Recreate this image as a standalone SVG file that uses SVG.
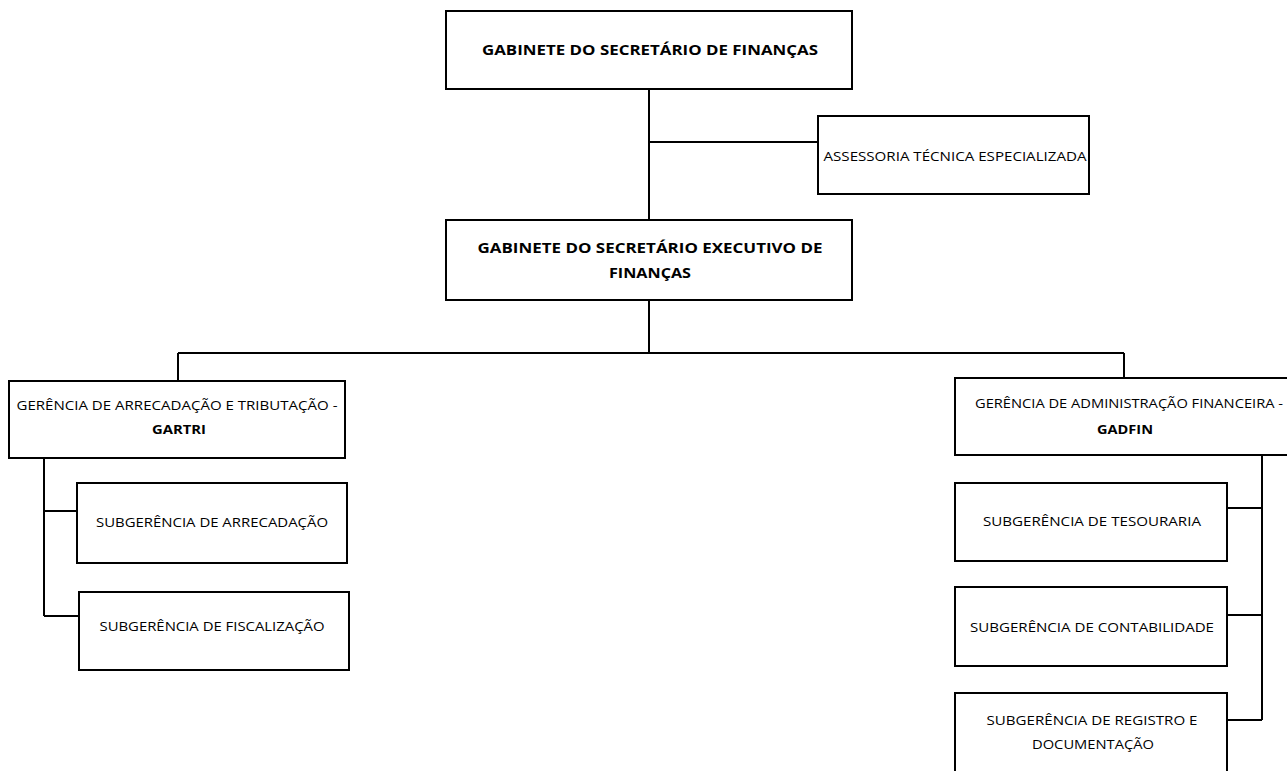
<svg xmlns="http://www.w3.org/2000/svg" width="1287" height="771" viewBox="0 0 1287 771">
<style>
.box{fill:#fff;stroke:#000;stroke-width:2}
.ln{fill:none;stroke:#000;stroke-width:2}
text{font-family:"Open Sans","Noto Sans","Liberation Sans",sans-serif;fill:#000;text-anchor:middle}
.b{font-weight:bold;font-size:14.5px}
.r{font-size:12.5px}
</style>
<rect width="1287" height="771" fill="#fff"/>
<g id="connectors">
<path class="ln" d="M649 89V220M649 142H818M649 300V353M178 353H1124M178 353V381M1124 353V378"/>
<path class="ln" d="M44 458V616M44 511H77M44 616H79"/>
<path class="ln" d="M1262 455V720M1227 508H1262M1227 615H1262M1227 720H1262"/>
</g>
<g id="n_gabinete">
<rect class="box" x="446" y="11" width="406" height="78"/>
<text class="b" x="650" y="55" textLength="336" lengthAdjust="spacingAndGlyphs">GABINETE DO SECRETÁRIO DE FINANÇAS</text>
</g>
<g id="n_assessoria">
<rect class="box" x="818" y="116" width="271" height="78"/>
<text class="r" x="955" y="161" textLength="263" lengthAdjust="spacingAndGlyphs">ASSESSORIA TÉCNICA ESPECIALIZADA</text>
</g>
<g id="n_executivo">
<rect class="box" x="446" y="220" width="406" height="80"/>
<text class="b" x="650" y="253" textLength="345" lengthAdjust="spacingAndGlyphs">GABINETE DO SECRETÁRIO EXECUTIVO DE</text>
<text class="b" x="650" y="278" textLength="82" lengthAdjust="spacingAndGlyphs">FINANÇAS</text>
</g>
<g id="n_gartri">
<rect class="box" x="9" y="381" width="336" height="77"/>
<text class="r" x="177" y="410" textLength="321" lengthAdjust="spacingAndGlyphs">GERÊNCIA DE ARRECADAÇÃO E TRIBUTAÇÃO -</text>
<text class="b" x="179" y="434" style="font-size:12.5px" textLength="54" lengthAdjust="spacingAndGlyphs">GARTRI</text>
</g>
<g id="n_arrecadacao">
<rect class="box" x="77" y="483" width="270" height="80"/>
<text class="r" x="212" y="527" textLength="232" lengthAdjust="spacingAndGlyphs">SUBGERÊNCIA DE ARRECADAÇÃO</text>
</g>
<g id="n_fiscalizacao">
<rect class="box" x="79" y="592" width="270" height="78"/>
<text class="r" x="212" y="631" textLength="225" lengthAdjust="spacingAndGlyphs">SUBGERÊNCIA DE FISCALIZAÇÃO</text>
</g>
<g id="n_gadfin">
<rect class="box" x="955" y="378" width="345" height="77"/>
<text class="r" x="1129" y="408" textLength="308" lengthAdjust="spacingAndGlyphs">GERÊNCIA DE ADMINISTRAÇÃO FINANCEIRA -</text>
<text class="b" x="1125" y="434" style="font-size:12.5px" textLength="56" lengthAdjust="spacingAndGlyphs">GADFIN</text>
</g>
<g id="n_tesouraria">
<rect class="box" x="955" y="483" width="272" height="78"/>
<text class="r" x="1092" y="526" textLength="218" lengthAdjust="spacingAndGlyphs">SUBGERÊNCIA DE TESOURARIA</text>
</g>
<g id="n_contabilidade">
<rect class="box" x="955" y="587" width="272" height="79"/>
<text class="r" x="1092" y="632" textLength="244" lengthAdjust="spacingAndGlyphs">SUBGERÊNCIA DE CONTABILIDADE</text>
</g>
<g id="n_registro">
<rect class="box" x="955" y="693" width="272" height="90"/>
<text class="r" x="1092" y="725" textLength="211" lengthAdjust="spacingAndGlyphs">SUBGERÊNCIA DE REGISTRO E</text>
<text class="r" x="1093" y="749" textLength="122" lengthAdjust="spacingAndGlyphs">DOCUMENTAÇÃO</text>
</g>
</svg>
